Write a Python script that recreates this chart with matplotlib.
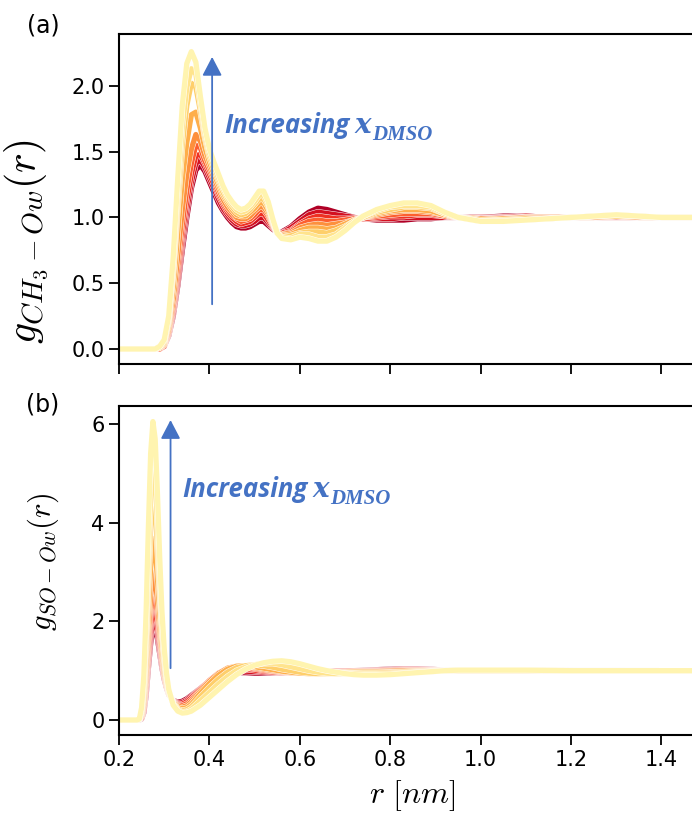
import matplotlib
matplotlib.use('Agg')
import matplotlib.pyplot as plt
import matplotlib.patheffects as pe
import numpy as np

plt.rcParams['mathtext.fontset'] = 'cm'
plt.rcParams['font.family'] = ['DejaVu Sans']

# ---------------- panel (a): CH3 - Ow ----------------
r_a = [0.20, 0.27, 0.28, 0.29, 0.30, 0.31, 0.32, 0.33, 0.34, 0.35, 0.36, 0.37, 0.38, 0.39,
       0.40, 0.41, 0.42, 0.43, 0.44, 0.45, 0.46, 0.47, 0.48, 0.49, 0.50, 0.51, 0.52, 0.53,
       0.54, 0.55, 0.56, 0.58, 0.60, 0.62, 0.64, 0.66, 0.68, 0.70, 0.72, 0.74, 0.77, 0.80,
       0.83, 0.86, 0.89, 0.92, 0.95, 1.00, 1.05, 1.10, 1.15, 1.20, 1.25, 1.30, 1.35, 1.40, 1.47]

g_a1 = [0, 0, 0, 0, .02, .10, .25, .48, .75, 1.00, 1.22, 1.36, 1.40, 1.35, 1.27, 1.19, 1.11, 1.05,
        1.00, .96, .93, .92, .92, .93, .95, .97, .97, .94, .91, .89, .89,
        .93, .99, 1.04, 1.07, 1.06, 1.04, 1.02, 1.00, .99,
        .98, .98, .98, .99, .99, 1.00, 1.00,
        1.00, 1.01, 1.01, 1.00, 1.00, 1.00, 1.00, 1.00, 1.00, 1.00]
g_a2 = [0, 0, 0, 0, .02, .11, .27, .52, .81, 1.06, 1.27, 1.41, 1.44, 1.38, 1.30, 1.22, 1.14, 1.07,
        1.02, .98, .95, .94, .94, .95, .97, 1.00, 1.00, .96, .92, .89, .88,
        .92, .97, 1.02, 1.04, 1.03, 1.02, 1.01, 1.00, .99,
        .99, .99, 1.00, 1.00, 1.00, 1.00, 1.00,
        1.00, 1.00, 1.01, 1.00, 1.00, 1.00, 1.00, 1.00, 1.00, 1.00]
g_a3 = [0, 0, 0, 0, .02, .12, .30, .57, .87, 1.13, 1.33, 1.47, 1.48, 1.41, 1.33, 1.25, 1.17, 1.10,
        1.04, 1.00, .97, .95, .96, .97, 1.00, 1.03, 1.03, .98, .93, .89, .88,
        .90, .95, .99, 1.01, 1.00, .99, .99, .99, .99,
        1.00, 1.01, 1.01, 1.02, 1.02, 1.01, 1.00,
        .99, 1.00, 1.00, 1.00, 1.00, 1.00, 1.00, 1.00, 1.00, 1.00]
g_a4 = [0, 0, 0, 0, .03, .13, .33, .63, .95, 1.21, 1.41, 1.55, 1.53, 1.43, 1.36, 1.28, 1.19, 1.12,
        1.06, 1.02, .99, .97, .98, .99, 1.02, 1.06, 1.06, 1.01, .94, .89, .87,
        .89, .94, .97, .98, .97, .97, .98, .99, 1.00,
        1.01, 1.02, 1.03, 1.03, 1.03, 1.01, 1.00,
        .99, .99, 1.00, 1.00, 1.00, 1.00, 1.01, 1.00, 1.00, 1.00]
g_a5 = [0, 0, 0, .01, .03, .15, .38, .71, 1.06, 1.33, 1.52, 1.63, 1.58, 1.47, 1.39, 1.30, 1.22, 1.14,
        1.08, 1.04, 1.00, .99, .99, 1.01, 1.05, 1.08, 1.08, 1.03, .95, .89, .87,
        .88, .92, .94, .95, .94, .95, .96, .98, 1.00,
        1.02, 1.04, 1.05, 1.05, 1.04, 1.02, 1.00,
        .99, .99, 1.00, 1.00, 1.00, 1.00, 1.01, 1.00, 1.00, 1.00]
g_a6 = [0, 0, 0, .01, .04, .18, .47, .88, 1.29, 1.57, 1.78, 1.80, 1.68, 1.53, 1.42, 1.33, 1.25, 1.17,
        1.11, 1.06, 1.02, 1.01, 1.01, 1.04, 1.07, 1.11, 1.11, 1.05, .96, .88, .86,
        .87, .90, .92, .92, .91, .92, .95, .98, 1.00,
        1.03, 1.05, 1.06, 1.06, 1.05, 1.02, 1.00,
        .98, .99, .99, .99, 1.00, 1.01, 1.01, 1.01, 1.00, 1.00]
g_a7 = [0, 0, 0, .01, .05, .21, .58, 1.08, 1.55, 1.85, 2.02, 1.99, 1.81, 1.61, 1.46, 1.36, 1.28, 1.19,
        1.13, 1.08, 1.04, 1.02, 1.03, 1.06, 1.10, 1.14, 1.14, 1.08, .97, .88, .85,
        .86, .88, .89, .89, .88, .90, .93, .97, 1.00,
        1.04, 1.06, 1.08, 1.08, 1.07, 1.03, 1.00,
        .98, .98, .99, .99, 1.00, 1.01, 1.01, 1.01, 1.00, 1.00]
g_a8 = [0, 0, 0, .02, .06, .23, .63, 1.18, 1.69, 1.99, 2.13, 2.09, 1.87, 1.64, 1.49, 1.39, 1.30, 1.22,
        1.15, 1.10, 1.06, 1.04, 1.05, 1.08, 1.12, 1.17, 1.17, 1.10, .98, .88, .85,
        .84, .87, .87, .85, .85, .87, .92, .97, 1.01,
        1.05, 1.08, 1.09, 1.09, 1.08, 1.03, 1.00,
        .97, .98, .98, .99, 1.00, 1.01, 1.02, 1.01, 1.00, 1.00]
g_a9 = [0, 0, 0, .02, .07, .25, .70, 1.30, 1.85, 2.17, 2.26, 2.18, 1.92, 1.68, 1.52, 1.42, 1.33, 1.24,
        1.17, 1.12, 1.08, 1.06, 1.07, 1.10, 1.15, 1.20, 1.20, 1.12, .99, .88, .84,
        .83, .85, .84, .82, .82, .85, .90, .96, 1.01,
        1.06, 1.09, 1.11, 1.11, 1.09, 1.04, 1.00,
        .97, .97, .98, .99, 1.00, 1.01, 1.02, 1.01, 1.00, 1.00]

# ---------------- panel (b): SO - Ow ----------------
r_b = [0.20, 0.24, 0.245, 0.25, 0.255, 0.26, 0.265, 0.27, 0.275, 0.28, 0.285, 0.29, 0.295, 0.30,
       0.305, 0.31, 0.32, 0.33, 0.34, 0.35, 0.36, 0.38, 0.40, 0.42, 0.44, 0.46, 0.48, 0.50,
       0.52, 0.54, 0.56, 0.58, 0.60, 0.62, 0.64, 0.66, 0.68, 0.70, 0.72, 0.74, 0.77, 0.80,
       0.83, 0.86, 0.89, 0.92, 0.95, 1.00, 1.10, 1.20, 1.30, 1.40, 1.47]

g_b1 = [0, 0, 0, .02, .15, .50, 1.05, 1.55, 1.88, 1.88, 1.65, 1.35, 1.05, .82, .65, .52, .40, .36, .38, .43, .50,
        .64, .77, .87, .93, .96, .96, .95, .95, .95, .96, .97, .98, .99, 1.00, 1.00, 1.00, 1.00, 1.00, 1.01,
        1.02, 1.03, 1.04, 1.04, 1.03, 1.01, 1.00,
        .99, 1.00, 1.01, 1.01, 1.00, 1.00]
g_b2 = [0, 0, 0, .03, .18, .57, 1.17, 1.71, 2.06, 2.05, 1.78, 1.44, 1.10, .84, .66, .52, .39, .34, .35, .40, .48,
        .64, .79, .90, .97, 1.00, .99, .98, .97, .96, .96, .96, .97, .98, .99, .99, 1.00, 1.00, 1.00, 1.00,
        1.01, 1.02, 1.03, 1.03, 1.02, 1.01, 1.00,
        .99, 1.00, 1.01, 1.01, 1.00, 1.00]
g_b3 = [0, 0, 0, .04, .22, .66, 1.32, 1.92, 2.30, 2.27, 1.95, 1.55, 1.16, .87, .67, .52, .38, .32, .32, .37, .45,
        .63, .80, .93, 1.01, 1.04, 1.03, 1.01, .99, .97, .96, .96, .96, .97, .98, .98, .99, .99, 1.00, 1.00,
        1.00, 1.01, 1.02, 1.02, 1.02, 1.01, 1.00,
        1.00, 1.00, 1.01, 1.00, 1.00, 1.00]
g_b4 = [0, 0, .01, .06, .28, .78, 1.52, 2.20, 2.63, 2.57, 2.18, 1.70, 1.25, .92, .70, .53, .37, .30, .29, .33, .41,
        .61, .80, .95, 1.04, 1.07, 1.06, 1.04, 1.01, .99, .97, .96, .96, .96, .97, .97, .98, .98, .99, .99,
        .99, 1.00, 1.01, 1.01, 1.01, 1.00, 1.00,
        1.00, 1.00, 1.00, 1.00, 1.00, 1.00]
g_b5 = [0, 0, .01, .08, .34, .92, 1.76, 2.52, 3.00, 2.90, 2.42, 1.86, 1.34, .96, .72, .54, .36, .28, .26, .29, .37,
        .58, .78, .94, 1.05, 1.09, 1.09, 1.06, 1.03, 1.00, .98, .96, .95, .95, .96, .96, .97, .97, .98, .98,
        .98, .99, 1.00, 1.00, 1.00, 1.00, 1.00,
        1.00, 1.00, 1.00, 1.00, 1.00, 1.00]
g_b6 = [0, 0, .01, .11, .44, 1.15, 2.18, 3.10, 3.68, 3.50, 2.88, 2.15, 1.50, 1.05, .76, .55, .35, .25, .23, .25, .32,
        .54, .74, .91, 1.03, 1.09, 1.10, 1.08, 1.05, 1.02, .99, .97, .95, .94, .94, .95, .96, .96, .97, .97,
        .97, .97, .98, .99, 1.00, 1.00, 1.00,
        1.00, 1.00, 1.00, 1.00, 1.00, 1.00]
g_b7 = [0, 0, .01, .15, .58, 1.48, 2.76, 3.90, 4.60, 4.33, 3.52, 2.58, 1.76, 1.18, .82, .57, .33, .22, .19, .21, .27,
        .47, .66, .83, .97, 1.06, 1.10, 1.12, 1.10, 1.07, 1.03, 1.00, .97, .95, .94, .94, .94, .95, .95, .95,
        .95, .96, .97, .98, .99, 1.00, 1.00,
        1.00, 1.00, 1.00, 1.00, 1.00, 1.00]
g_b8 = [0, 0, .02, .20, .72, 1.80, 3.25, 4.52, 5.28, 4.95, 4.00, 2.90, 1.95, 1.30, .88, .59, .32, .20, .16, .17, .22,
        .39, .56, .73, .88, 1.00, 1.07, 1.12, 1.15, 1.15, 1.12, 1.08, 1.04, 1.00, .97, .95, .94, .94, .94, .93,
        .93, .94, .95, .97, .98, 1.00, 1.01,
        1.01, 1.01, 1.00, 1.00, 1.00, 1.00]
g_b9 = [0, 0, .02, .25, .90, 2.20, 3.90, 5.40, 6.05, 5.70, 4.60, 3.30, 2.20, 1.45, .95, .62, .30, .18, .14, .15, .18,
        .30, .46, .62, .78, .92, 1.03, 1.11, 1.16, 1.19, 1.20, 1.18, 1.14, 1.09, 1.04, 1.00, .97, .94, .92, .91,
        .91, .92, .94, .96, .98, 1.00, 1.01,
        1.01, 1.01, 1.00, 1.00, 1.00, 1.00]

curves_a = [g_a1, g_a2, g_a3, g_a4, g_a5, g_a6, g_a7, g_a8, g_a9]
curves_b = [g_b1, g_b2, g_b3, g_b4, g_b5, g_b6, g_b7, g_b8, g_b9]

xticks = [0.2, 0.4, 0.6, 0.8, 1.0, 1.2, 1.4]
yticks_a = [0.0, 0.5, 1.0, 1.5, 2.0]
yticks_b = [0, 2, 4, 6]

BLUE = '#4472C4'
W, H = 692, 814
fig = plt.figure(figsize=(W / 100, H / 100), dpi=100)
left = 119 / W
width = (706.7 - 119) / W
ax1 = fig.add_axes([left, 1 - 364 / H, width, (364 - 34) / H])
ax2 = fig.add_axes([left, 1 - 735 / H, width, (735 - 406) / H])

colors = plt.cm.YlOrRd(np.linspace(0.9, 0.08, 9))

for ax, r, curves in ((ax1, r_a, curves_a), (ax2, r_b, curves_b)):
    for g, c in zip(curves, colors):
        ax.plot(r, g, color=c, lw=3.8, solid_joinstyle='round', solid_capstyle='round',
                path_effects=[pe.Stroke(linewidth=4.5, foreground='white'), pe.Normal()])
    ax.set_xlim(0.2, 1.5)
    ax.set_xticks(xticks)
    ax.spines['right'].set_visible(False)
    for s in ax.spines.values():
        s.set_linewidth(1.5)
    ax.tick_params(labelsize=15, length=7, width=1.3)

ax1.set_ylim(-0.114, 2.394)
ax1.set_yticks(yticks_a)
ax1.tick_params(labelbottom=False)
ax2.set_ylim(-0.304, 6.365)
ax2.set_yticks(yticks_b)

ax1.set_ylabel(r'$g_{CH_3-Ow}(r)$', fontsize=30)
ax1.yaxis.set_label_coords(-0.116, 0.37)
ax2.set_ylabel(r'$g_{SO-Ow}(r)$', fontsize=22)
ax2.yaxis.set_label_coords(-0.099, 0.525)
ax2.set_xlabel(r'$r\ [nm]$', fontsize=23, labelpad=6)

fig.text(43 / W, 1 - 25 / H, '(a)', fontsize=17, ha='center', va='center')
fig.text(43 / W, 1 - 405 / H, '(b)', fontsize=17, ha='center', va='center')

arrow_kw = dict(arrowstyle='-|>,head_length=1.15,head_width=0.6', mutation_scale=10,
                color=BLUE, lw=1.3, shrinkA=0, shrinkB=0)
ax1.annotate('', xy=(0.406, 2.22), xytext=(0.406, 0.34), arrowprops=arrow_kw, zorder=6)
ax2.annotate('', xy=(0.314, 6.08), xytext=(0.314, 1.05), arrowprops=arrow_kw, zorder=6)


def label(ax, x, y):
    t1 = ax.text(x, y, 'Increasing', fontfamily='Open Sans', fontweight='bold', style='italic',
                 fontsize=18.5, color=BLUE, va='baseline', ha='left', zorder=7)
    t2 = ax.annotate('x', xy=(1, y), xycoords=(t1, 'data'), xytext=(4, 0),
                     textcoords='offset points', fontfamily='DejaVu Serif',
                     fontweight='bold', style='italic', fontsize=20, color=BLUE,
                     va='baseline', ha='left', zorder=7)
    ax.annotate('DMSO', xy=(1, y), xycoords=(t2, 'data'), xytext=(1, -5),
                textcoords='offset points', fontfamily='Liberation Serif',
                fontweight='bold', style='italic', fontsize=15, color=BLUE,
                va='baseline', ha='left', zorder=7)


label(ax1, 0.432, 1.64)
label(ax2, 0.339, 4.52)

fig.savefig('out.png', dpi=100)
